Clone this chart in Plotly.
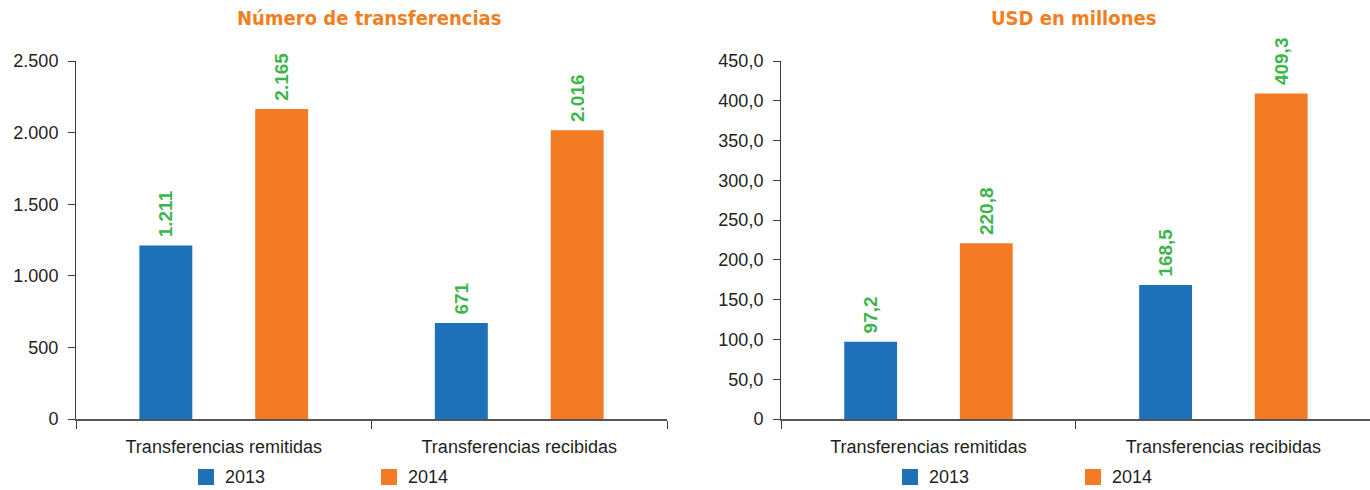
import plotly.graph_objects as go

# ---- data ----
categories = ["Transferencias remitidas", "Transferencias recibidas"]
years = ["2013", "2014"]
count_2013 = [1211, 671]
count_2014 = [2165, 2016]
usd_2013 = [97.2, 168.5]
usd_2014 = [220.8, 409.3]

count_ticks = [0, 500, 1000, 1500, 2000, 2500]
usd_ticks = [0, 50, 100, 150, 200, 250, 300, 350, 400, 450]
usd_tick_labels = ["0", "50,0", "100,0", "150,0", "200,0", "250,0",
                   "300,0", "350,0", "400,0", "450,0"]

titles = ["Número de transferencias", "USD en millones"]

# ---- styling ----
W, H = 1370, 490
TOP, BOTTOM = 61, 419          # plot area in pixels
BLUE = "#1d71b8"
ORANGE = "#f27b24"
GREEN = "#3cb54a"
TITLE_ORANGE = "#f07f22"
TEXT = "#231f20"
AXIS = "#3a3a3a"
FONT = "Liberation Sans, Arial, Helvetica, sans-serif"
NARROW = "DejaVu Sans Condensed, Arial Narrow, sans-serif"


def px_x(x):
    return x / W


def px_y(y):
    return (BOTTOM - y) / (BOTTOM - TOP)


fig = go.Figure()

colors = [BLUE, ORANGE]
# a leading no-break space lifts the rotated value label off the bar top
panels = [
    ("x", "y", [count_2013, count_2014], "\u00a0%{y:,d}"),
    ("x2", "y2", [usd_2013, usd_2014], "\u00a0%{y:.1f}"),
]
for xa, ya, series, tmpl in panels:
    for name, vals, col in zip(years, series, colors):
        fig.add_trace(go.Bar(
            x=categories, y=vals, name=name, xaxis=xa, yaxis=ya,
            marker=dict(color=col, line=dict(width=0)),
            texttemplate=tmpl, textposition="outside", textangle=-90,
            textfont=dict(family=FONT, size=19, color=GREEN, weight="bold"),
            constraintext="none", cliponaxis=False, showlegend=False,
            hoverinfo="skip",
        ))

xaxis_common = dict(
    type="category", tickson="boundaries", ticks="outside", ticklen=8,
    tickcolor=AXIS, showline=True, linecolor="#555555", linewidth=1.5,
    showgrid=False, tickfont=dict(family=FONT, size=18, color=TEXT),
    ticklabelstandoff=11, fixedrange=True,
)
yaxis_common = dict(
    ticks="outside", ticklen=7, tickcolor=AXIS, showline=True,
    linecolor=AXIS, linewidth=1, showgrid=False, zeroline=False,
    tickfont=dict(family=FONT, size=18, color=TEXT),
    ticklabelstandoff=6, fixedrange=True,
)

fig.update_layout(
    width=W, height=H,
    margin=dict(l=0, r=0, t=TOP, b=H - BOTTOM, pad=0),
    paper_bgcolor="white", plot_bgcolor="white",
    separators=",.",
    barmode="group", bargap=0.216, bargroupgap=0.543,
    xaxis=dict(domain=[px_x(76), px_x(667)], range=[-0.5, 1.5], **xaxis_common),
    xaxis2=dict(domain=[px_x(781), 1.0], range=[-0.5, 1.497], anchor="y2",
                **xaxis_common),
    yaxis=dict(range=[0, 2500], tickvals=count_ticks, tickformat=",d",
               anchor="x", **yaxis_common),
    yaxis2=dict(range=[0, 450], tickvals=usd_ticks, ticktext=usd_tick_labels,
                anchor="x2", **yaxis_common),
)

# panel titles
for title, cx in zip(titles, [369, 1073]):
    fig.add_annotation(
        text=title, x=px_x(cx), y=px_y(18), xref="paper", yref="paper",
        xanchor="center", yanchor="middle", showarrow=False,
        font=dict(family=NARROW, size=20, color=TITLE_ORANGE, weight="bold"),
    )

# legend keys below each panel
legend_keys = [(198, BLUE, "2013"), (381, ORANGE, "2014"),
               (902, BLUE, "2013"), (1085, ORANGE, "2014")]
for x0, col, label in legend_keys:
    fig.add_shape(type="rect", xref="paper", yref="paper",
                  x0=px_x(x0), x1=px_x(x0 + 16), y0=px_y(469), y1=px_y(485),
                  fillcolor=col, line=dict(width=0))
    fig.add_annotation(
        text=label, x=px_x(x0 + 25), y=px_y(477), xref="paper", yref="paper",
        xanchor="left", yanchor="middle", showarrow=False,
        font=dict(family=FONT, size=18, color=TEXT),
    )

fig.write_html("out.html", config={"displayModeBar": False})
